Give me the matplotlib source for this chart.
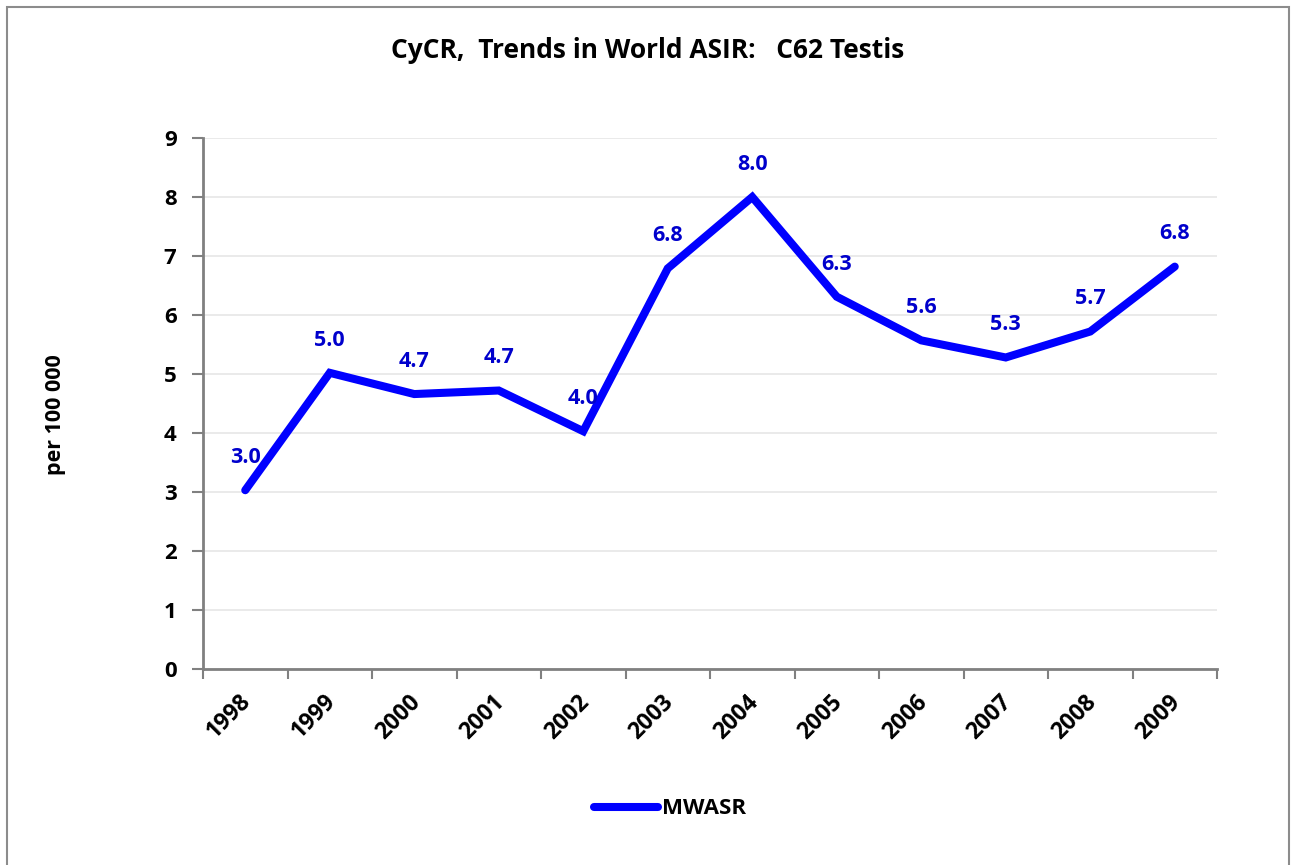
import matplotlib
matplotlib.use("Agg")
import matplotlib.pyplot as plt
from matplotlib.patches import Rectangle
from matplotlib.transforms import ScaledTranslation
import numpy as np

years = ["1998", "1999", "2000", "2001", "2002", "2003", "2004", "2005", "2006", "2007", "2008", "2009"]
mwasr = [3.03, 5.02, 4.66, 4.72, 4.03, 6.79, 8.00, 6.31, 5.57, 5.28, 5.72, 6.82]
series_name = "MWASR"
title = "CyCR,  Trends in World ASIR:   C62 Testis"
ylabel = "per 100 000"

FONT = ['Open Sans', 'DejaVu Sans']
plt.rcParams['font.family'] = FONT
plt.rcParams['font.weight'] = 'bold'

W, H = 1291, 865
fig = plt.figure(figsize=(W / 100, H / 100), dpi=100)
ax = fig.add_axes([203 / W, 1 - 669 / H, 1014 / W, (669 - 138) / H])

x = np.arange(len(years))
line, = ax.plot(x, mwasr, color='#0000FF', lw=5.8, solid_capstyle='round',
                solid_joinstyle='miter', label=series_name, zorder=3)

for xi, v in zip(x, mwasr):
    ax.annotate(f"{v:.1f}", (xi, v), xytext=(0, 23.5), textcoords='offset points',
                ha='center', va='center', color='#0000CC', fontsize=15.5,
                fontweight='bold', zorder=4)

ax.set_xlim(-0.5, len(years) - 0.5)
ax.set_ylim(0, 9)
ax.set_yticks(range(0, 10))
ax.set_yticklabels([str(i) for i in range(10)], fontsize=16, fontweight='bold')
ax.set_xticks(np.arange(-0.5, len(years), 1.0))
ax.set_xticklabels([])
ax.set_xticks(x, minor=True)
ax.set_xticklabels(years, minor=True, rotation=45, ha='right', va='top',
                   rotation_mode='anchor', fontsize=16.5, fontweight='bold')
ax.tick_params(axis='x', which='minor', length=0, pad=15)
ax.tick_params(axis='x', which='major', length=7, width=1.5, color='#808080', direction='out')
ax.tick_params(axis='y', length=8, width=1.5, color='#808080', direction='out', pad=11)
shift = ScaledTranslation(-6 / 100, 0, fig.dpi_scale_trans)
for lab in ax.get_xticklabels(minor=True):
    lab.set_transform(lab.get_transform() + shift)

ax.grid(axis='y', color='#E6E6E6', lw=1.2, zorder=0)
ax.set_axisbelow(True)
for s in ['top', 'right']:
    ax.spines[s].set_visible(False)
for s in ['left', 'bottom']:
    ax.spines[s].set_color('#808080')
    ax.spines[s].set_linewidth(2)

fig.text(648 / W, 1 - 50 / H, title, ha='center', va='center', fontsize=19, fontweight='bold')
fig.text(55 / W, 1 - 415 / H, ylabel, ha='center', va='center', rotation=90,
         fontsize=15.5, fontweight='bold')

leg = fig.legend(handles=[line], loc='center', bbox_to_anchor=(670 / W, 1 - 809 / H),
                 frameon=False, handlelength=2.9, handletextpad=0.18,
                 prop={'family': FONT, 'weight': 'bold', 'size': 16})

fig.add_artist(Rectangle((6.5 / W, -0.05), (1289 - 6.5) / W, 1.05 - 7.5 / H,
                         transform=fig.transFigure, fill=False, edgecolor='#8C8C8C', lw=1.5))

fig.savefig("out.png", dpi=100, facecolor='white')
